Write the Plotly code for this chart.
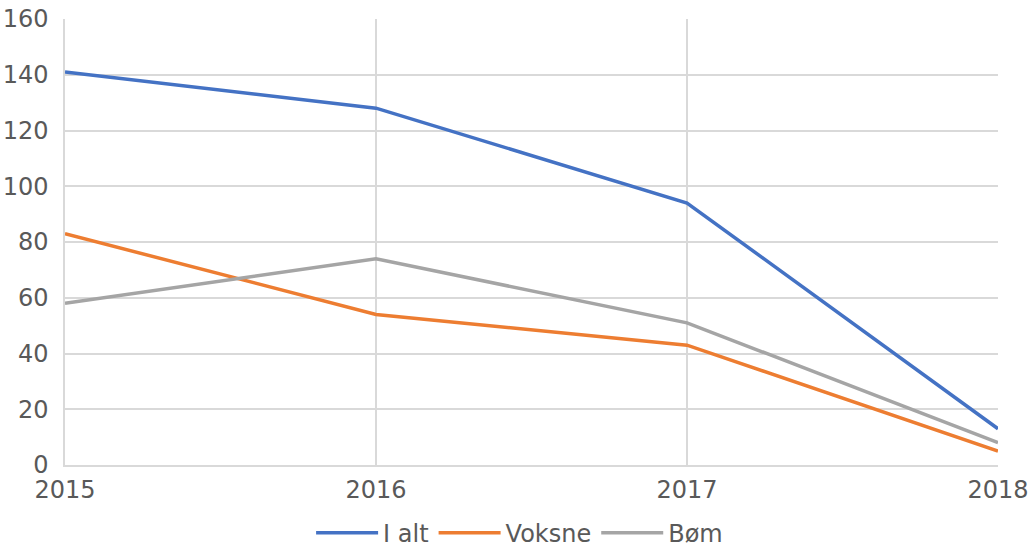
import plotly.graph_objects as go

years = [2015, 2016, 2017, 2018]
i_alt = [141, 128, 94, 13]
voksne = [83, 54, 43, 5]
boern = [58, 74, 51, 8]
y_ticks = [0, 20, 40, 60, 80, 100, 120, 140, 160]

series = [("I alt", i_alt, "#4472C4"), ("Voksne", voksne, "#ED7D31"), ("Bøm", boern, "#A5A5A5")]

fig = go.Figure()
for name, vals, col in series:
    fig.add_trace(go.Scatter(x=years, y=vals, name=name, mode="lines",
                             line=dict(color=col, width=3.5)))

font = dict(family="DejaVu Sans", size=24, color="#595959")
fig.update_layout(
    width=1033, height=548,
    margin=dict(l=65, r=35, t=19, b=83),
    paper_bgcolor="white", plot_bgcolor="white",
    font=font,
    showlegend=True,
    legend=dict(orientation="h", x=0.503, xanchor="center", xref="container",
                y=0.027, yanchor="middle", yref="container",
                font=font, itemwidth=62, tracegroupgap=0),
    xaxis=dict(range=[2015, 2018], tickvals=years, ticktext=[str(y) for y in years],
               showgrid=True, gridcolor="#D9D9D9", gridwidth=1.5, zeroline=False,
               showline=True, linecolor="#D9D9D9", linewidth=1.5, ticks="", tickfont=font,
               automargin=False, ticklabelstandoff=2),
    yaxis=dict(range=[0, 160], tickvals=y_ticks, showgrid=True, gridcolor="#D9D9D9",
               gridwidth=1.5, zeroline=False, showline=True, linecolor="#D9D9D9",
               linewidth=1.5, ticks="", tickfont=font, ticklabelstandoff=10,
               automargin=False),
)
fig.write_html("out.html", config={"displayModeBar": False},
               post_script="document.body.style.margin='0';")
